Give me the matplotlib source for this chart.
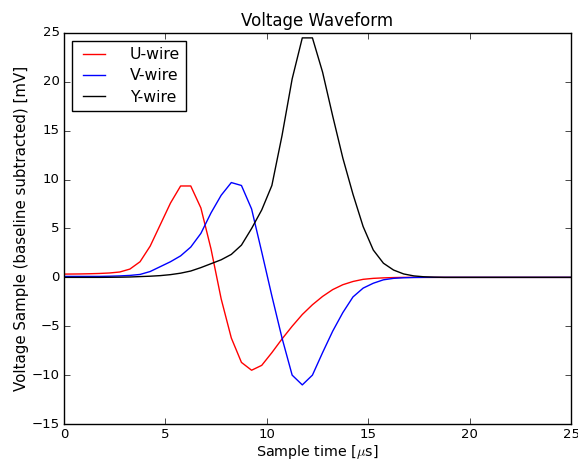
import numpy as np
import matplotlib
matplotlib.use("Agg")
import matplotlib.pyplot as plt

plt.style.use('classic')
plt.rcParams['font.size'] = 9
plt.rcParams['font.family'] = ['DejaVu Sans']

t = np.arange(52) * 0.5 - 0.25  # sample times [us]

u_wire = [0.33, 0.34, 0.35, 0.37, 0.40, 0.45, 0.55, 0.85, 1.6, 3.2,
          5.4, 7.6, 9.35, 9.35, 7.1, 2.9, -2.2, -6.2, -8.7, -9.5,
          -9.0, -7.7, -6.3, -5.0, -3.8, -2.8, -1.95, -1.25, -0.75, -0.42,
          -0.2, -0.1, -0.05, -0.02, 0, 0, 0, 0, 0, 0,
          0, 0, 0, 0, 0, 0, 0, 0, 0, 0, 0, 0]
v_wire = [0.1, 0.1, 0.1, 0.1, 0.1, 0.12, 0.15, 0.2, 0.3, 0.6,
          1.1, 1.6, 2.2, 3.1, 4.5, 6.6, 8.4, 9.7, 9.4, 7.0,
          2.6, -1.9, -6.2, -10.0, -11.0, -10.0, -7.7, -5.5, -3.6, -2.0,
          -1.1, -0.6, -0.25, -0.1, -0.04, -0.01, 0, 0, 0, 0,
          0, 0, 0, 0, 0, 0, 0, 0, 0, 0, 0, 0]
y_wire = [0.0, 0.0, 0.0, 0.0, 0.0, 0.01, 0.02, 0.04, 0.08, 0.12,
          0.18, 0.28, 0.43, 0.65, 1.0, 1.4, 1.8, 2.35, 3.3, 5.0,
          6.9, 9.4, 14.5, 20.3, 24.5, 24.5, 21.0, 16.5, 12.2, 8.5,
          5.2, 2.8, 1.45, 0.75, 0.35, 0.15, 0.06, 0.02, 0, 0,
          0, 0, 0, 0, 0, 0, 0, 0, 0, 0, 0, 0]

fig = plt.figure(figsize=(5.78, 4.61), dpi=100)
fig.patch.set_facecolor('white')
ax = fig.add_axes([64/578, 1 - 424/461, (571-64)/578, (424-33)/461])

ax.plot(t, u_wire, color='r', lw=1.0, label='U-wire')
ax.plot(t, v_wire, color='b', lw=1.0, label='V-wire')
ax.plot(t, y_wire, color='k', lw=1.0, label='Y-wire')

ax.set_xlim(0, 25)
ax.set_ylim(-15, 25)
ax.set_xticks([0, 5, 10, 15, 20, 25])
ax.set_yticks(np.arange(-15, 26, 5))
ax.tick_params(labelsize=9.5, pad=3)
ax.set_title('Voltage Waveform', fontsize=12)
ax.set_xlabel(r'Sample time [$\mu$s]', fontsize=10.3, labelpad=1)
ax.set_ylabel('Voltage Sample (baseline subtracted) [mV]', fontsize=10.8, labelpad=2)
ax.legend(loc='upper left', fontsize=11.3, labelspacing=0.4, handletextpad=1.3)

fig.savefig('out.png', dpi=100, facecolor='white')
